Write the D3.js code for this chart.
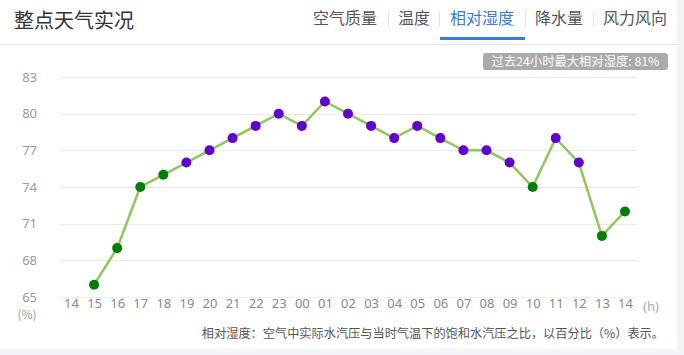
<!DOCTYPE html>
<html><head><meta charset="utf-8">
<script src="https://cdn.jsdelivr.net/npm/d3@7"></script>
<style>
html,body{margin:0;padding:0;background:#f3f5f8;}
svg{display:block;font-family:"Noto Sans CJK SC","Noto Sans",sans-serif;}
</style></head>
<body>
<svg id="c" width="684" height="355"></svg>
<script>
const hours = ["14","15","16","17","18","19","20","21","22","23","00","01","02","03","04","05","06","07","08","09","10","11","12","13","14"];
const humidity = [null,66,69,74,75,76,77,78,79,80,79,81,80,79,78,79,78,77,77,76,74,78,76,70,72];
const yTicks = [65,68,71,74,77,80,83];
const tabs = ["空气质量","温度","相对湿度","降水量","风力风向"];
const activeTab = "相对湿度";
const title = "整点天气实况";
const badgeText = "过去24小时最大相对湿度: 81%";
const noteText = "相对湿度：空气中实际水汽压与当时气温下的饱和水汽压之比，以百分比（%）表示。";

const svg = d3.select("#c");
// card
svg.append("rect").attr("x",0).attr("y",0).attr("width",677).attr("height",349).attr("fill","#fff");
svg.append("line").attr("x1",0).attr("x2",677).attr("y1",44.5).attr("y2",44.5).attr("stroke","#e6e6e6");

svg.append("text").attr("x",14).attr("y",28).attr("font-size",20).attr("fill","#333").text(title);

// tabs
const tabX = [313,398,450,535,603];
const sepX = [388,439,525,593];
const tabG = svg.append("g");
tabs.forEach((t,i)=>{
  tabG.append("text").attr("x",tabX[i]).attr("y",24).attr("font-size",16)
    .attr("fill", t===activeTab ? "#3a7bd5" : "#555").text(t);
  if(i<tabs.length-1){
    tabG.append("line").attr("x1",sepX[i]+0.5).attr("x2",sepX[i]+0.5).attr("y1",11).attr("y2",27).attr("stroke","#e3e3e3");
  }
});
tabG.append("rect").attr("x",440).attr("y",37).attr("width",85).attr("height",3).attr("fill","#3a7bd5");

// badge
svg.append("rect").attr("x",483).attr("y",53).attr("width",185).attr("height",17).attr("rx",3).attr("fill","#aaaaaa");
svg.append("text").attr("x",575.5).attr("y",65.5).attr("text-anchor","middle").attr("font-size",12.3).attr("fill","#fff").text(badgeText);

// scales
const y = d3.scaleLinear().domain([65,83]).range([297,77]);
const x = d3.scalePoint().domain(d3.range(hours.length)).range([71,625]);

// grid
svg.append("g").selectAll("line").data(yTicks).join("line")
  .attr("x1",60).attr("x2",637).attr("y1",d=>Math.round(y(d))+0.5).attr("y2",d=>Math.round(y(d))+0.5)
  .attr("stroke",d=>d===65?"#f0f0f0":"#e9e9e9");

// y axis labels
const yAxis = d3.axisLeft(y).tickValues(yTicks).tickSize(0).tickPadding(0);
const yg = svg.append("g").attr("transform","translate(37,0)").call(yAxis);
yg.select(".domain").remove();
yg.selectAll("text").attr("font-size",13).attr("fill","#999").attr("font-family","'Noto Sans',sans-serif");
svg.append("text").attr("x",27).attr("y",319).attr("text-anchor","middle").attr("font-size",12).attr("fill","#999").text("(%)");

// x axis labels
const xAxis = d3.axisBottom(x).tickFormat(i=>hours[i]).tickSize(0).tickPadding(0);
const xg = svg.append("g").attr("transform","translate(0,299)").call(xAxis);
xg.select(".domain").remove();
xg.selectAll("text").attr("font-size",13).attr("fill","#888").attr("font-family","'Noto Sans',sans-serif");
svg.append("text").attr("x",x(hours.length-1)+26).attr("y",311).attr("text-anchor","middle").attr("font-size",13).attr("fill","#a3a8bd").attr("font-family","'Noto Sans',sans-serif").text("(h)");

// line
const pts = humidity.map((v,i)=>({i,v})).filter(d=>d.v!=null);
svg.append("path").datum(pts)
  .attr("d", d3.line().x(d=>x(d.i)).y(d=>y(d.v)))
  .attr("fill","none").attr("stroke","#92c55e").attr("stroke-width",2.5);
svg.append("g").selectAll("circle").data(pts).join("circle")
  .attr("cx",d=>x(d.i)).attr("cy",d=>y(d.v)).attr("r",5)
  .attr("fill",d=>d.v>=76?"#6200cc":"#057d05");

// note
svg.append("text").attr("x",664).attr("y",338).attr("text-anchor","end").attr("font-size",12.2).attr("fill","#555").text(noteText);
</script>
</body></html>
